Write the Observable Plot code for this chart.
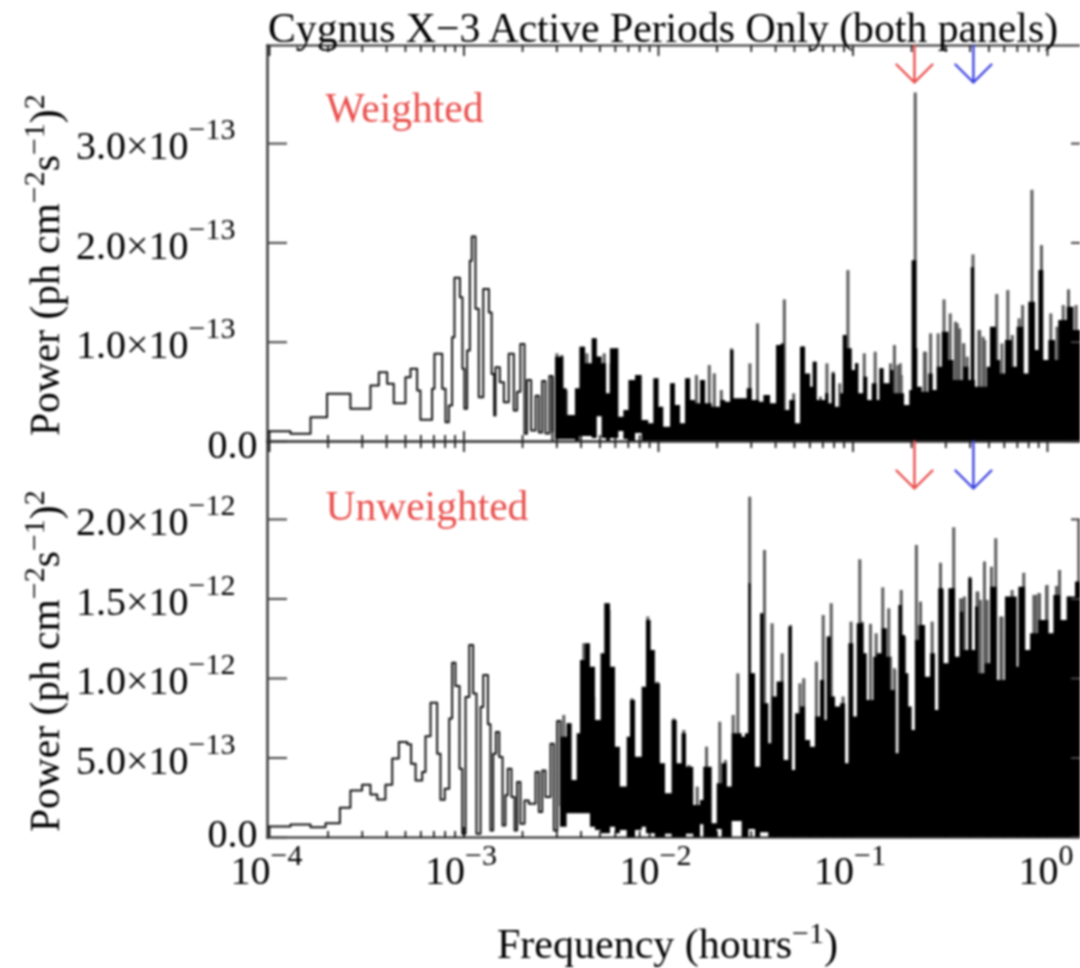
<!DOCTYPE html>
<html><head><meta charset="utf-8">
<script src="https://cdn.jsdelivr.net/npm/d3@7"></script>
<script src="https://cdn.jsdelivr.net/npm/@observablehq/plot@0.6"></script>
<style>
html,body{margin:0;padding:0;background:#fff}
#page{position:relative;width:1080px;height:968px;overflow:hidden;font-family:"Liberation Serif",serif;color:#000;filter:blur(.8px);background:#fff}
#page svg{position:absolute;left:0}
.t{position:absolute;white-space:nowrap;font-size:41.5px;line-height:1;z-index:5}
.t sup{font-size:30px;line-height:0;vertical-align:15px}
.rot{transform-origin:0 0;transform:rotate(-90deg)}
</style></head><body><div id="page"></div>
<script>
// Weighted panel, low-frequency histogram: log10(frequency) bin edges and power (1e-13)
const wStepLogF=[-4.012,-3.892,-3.789,-3.704,-3.584,-3.481,-3.438,-3.395,-3.361,-3.301,-3.275,-3.241,-3.224,-3.164,-3.152,-3.112,-3.095,-3.078,-3.061,-3.049,-3.021,-3.008,-2.998,-2.984,-2.970,-2.960,-2.941,-2.924,-2.901,-2.872,-2.858,-2.845,-2.838,-2.816,-2.795,-2.770,-2.744,-2.727,-2.710,-2.689,-2.676,-2.655,-2.632,-2.615,-2.598,-2.581,-2.561,-2.545];
const wStepPower=[.104,.077,.245,.480,.329,.564,.698,.581,.386,.648,.732,.513,.218,.530,.883,.530,.195,.362,1.05,1.648,1.453,.732,.329,.916,1.82,2.064,1.336,.446,1.537,1.30,.681,.262,.748,.597,.396,.883,.312,.50,.983,.077,.62,.11,.46,.09,.61,.08,.66,.10];
// Weighted panel, peaks standing above the dense forest
const wSpikeLogF=[-2.545,-2.522,-2.497,-2.474,-2.391,-2.368,-2.327,-2.279,-2.244,-2.217,-2.143,-2.099,-2.008,-1.925,-1.845,-1.805,-1.775,-1.739,-1.713,-1.677,-1.624,-1.530,-1.491,-1.385,-1.353,-1.305,-1.258,-1.196,-1.134,-1.102,-1.040,-1.026,-.981,-.942,-.886,-.850,-.787,-.757,-.680,-.633,-.601,-.562,-.532,-.500,-.464,-.432,-.383,-.349,-.323,-.261,-.234,-.204,-.181,-.146,-.128,-.080,-.031,.017,.049,.081,.108,.147,-1.167,-1.068,-.627,-.473,-.452,-.430,-.413,-.353,-.331,-.807,-.769,-.752];
const wSpikePower=[.648,.883,.866,.513,.950,.883,1.034,.883,.782,.933,.614,.664,.631,.581,.631,.664,.614,.765,.681,.513,.933,.782,1.185,.966,1.426,.480,.956,.799,.782,.698,1.067,1.721,.782,.883,.899,.732,.966,.782,3.51,.899,1.084,1.084,1.426,1.285,1.185,.983,1.879,1.117,1.017,1.480,.983,1.520,1.067,1.235,1.369,2.53,1.973,1.285,1.151,1.369,1.527,1.369,.446,.581,.899,1.201,1.134,.983,.849,1.117,1.05,.782,.765,.664];
// Weighted panel, top of the solid black forest (left bin edges)
const wMassLogF=[-2.529,-2.487,-2.470,-2.427,-2.404,-2.375,-2.341,-2.315,-2.290,-2.267,-2.247,-2.204,-2.178,-2.152,-2.118,-2.084,-2.050,-2.024,-1.998,-1.973,-1.938,-1.913,-1.887,-1.861,-1.835,-1.810,-1.784,-1.758,-1.724,-1.681,-1.655,-1.629,-1.612,-1.544,-1.518,-1.501,-1.480,-1.458,-1.424,-1.393,-1.369,-1.352,-1.325,-1.296,-1.270,-1.244,
-1.218,-1.205,-1.184,-1.141,-1.124,-1.107,-1.090,-1.064,-1.050,-1.030,-1.004,-.987,-.970,-.944,-.924,-.901,-.876,-.862,-.841,-.807,-.790,-.756,-.735,-.708,-.696,-.672,-.667,-.644,-.610,-.588,-.567,-.541,-.507,-.481,-.430,-.404,-.392,-.375,-.370,-.310,-.293,-.262,-.241,-.216,-.181,-.156,-.122,-.096,-.062,-.044,-.019,.007,.041,.058,.101,.136,.17];
const wMassTop=[.849,.530,.262,.530,.95,.782,1.034,.85,.782,.48,.933,.245,.312,.614,.664,.211,.178,.631,.346,.144,.581,.362,.178,.631,.413,.379,.614,.379,.346,.413,.396,.916,.43,.530,.413,.413,.396,.463,.379,.966,.983,.312,.413,.178,.95,.681,
.547,.799,.413,.48,.379,.681,.346,.48,1.067,.933,.715,.782,.48,.648,.413,.581,.413,.732,.581,.715,.48,.48,.362,.513,1.82,.933,.547,.497,.681,.513,.748,1.10,.815,.614,.748,.614,1.75,.614,.547,.748,1.151,.815,.681,1.017,.748,1.151,.681,1.403,.916,1.721,.815,1.017,.815,1.218,1.352,1.117,1.117];
// Weighted panel, small white holes at the foot of the forest
const wHoleLogF=[-2.529,-2.470,-2.427,-2.404,-2.375,-2.341,-2.315,-2.290,-2.267,-2.247,-2.204,-2.178,-2.152,-2.118,-2.084];
const wHolePower=[.02,.02,0,.05,.05,.03,.25,.03,0,.03,.1,.02,0,.08,0];
// Unweighted panel, low-frequency histogram (power 1e-12)
const uStepLogF=[-4.012,-3.892,-3.789,-3.712,-3.638,-3.584,-3.524,-3.481,-3.446,-3.404,-3.369,-3.335,-3.292,-3.272,-3.249,-3.215,-3.198,-3.172,-3.138,-3.121,-3.099,-3.076,-3.061,-3.044,-3.023,-3.009,-2.992,-2.973,-2.953,-2.936,-2.915,-2.901,-2.877,-2.864,-2.850,-2.836,-2.819,-2.802,-2.787,-2.775,-2.756,-2.740,-2.727,-2.710,-2.689,-2.667,-2.632,-2.615,-2.598,-2.581,-2.555,-2.538,-2.521,-2.504];
const uStepPower=[.069,.082,.065,.090,.187,.296,.332,.271,.239,.332,.496,.601,.586,.464,.359,.412,.637,.847,.527,.237,.307,.748,1.099,.952,.433,.023,.884,1.21,.905,.023,.821,1.021,.712,.044,.527,.664,.506,.076,.265,.433,.254,.044,.349,.086,.233,.212,.412,.160,.422,.254,.590,.044,.733,.20];
// Unweighted panel, peaks
const uSpikeLogF=[-2.487,-2.461,-2.384,-2.367,-2.333,-2.273,-2.255,-2.136,-2.055,-2.007,-1.921,-1.870,-1.844,-1.801,-1.753,-1.685,-1.656,-1.616,-1.592,-1.531,-1.519,-1.467,-1.455,-1.416,-1.364,-1.321,-1.273,-1.253,-1.188,-1.153,-1.124,-1.112,-1.051,-1.010,-.965,-.953,-.910,-.881,-.847,-.816,-.785,-.752,-.735,-.674,-.653,-.593,-.550,-.542,-.482,-.439,-.399,-.362,-.324,-.288,-.266,-.233,-.182,-.122,-.062,-.041,-.002,.062,.110,.161,-.807,-.787,-.427,-.358,-.241,-.447,-.344,-.310,-.070,-.045,-.005,.046];
const uSpikePower=[.767,.715,1.218,1.155,.883,1.470,1.428,.872,1.386,.977,.746,.673,.453,.317,.568,.725,.484,.767,1.029,2.140,1.029,1.407,1.805,1.344,1.155,1.333,.966,.998,1.103,1.396,1.260,1.470,.883,1.354,1.746,1.354,1.340,1.281,1.570,1.438,1.050,1.553,1.260,1.836,1.480,1.354,1.725,1.553,1.948,1.501,1.637,1.543,1.732,1.700,1.878,1.386,1.553,1.662,1.522,1.532,1.585,1.679,1.512,1.994,1.134,1.061,1.512,1.543,1.386,1.50,1.491,1.491,1.522,1.533,1.579,1.579];
// Unweighted panel, top of the solid forest (left bin edges)
const uMassLogF=[-2.504,-2.470,-2.444,-2.418,-2.401,-2.375,-2.350,-2.324,-2.295,-2.273,-2.247,-2.221,-2.196,-2.161,-2.144,-2.118,-2.084,-2.062,-2.038,-2.016,-1.990,-1.964,-1.930,-1.904,-1.879,-1.856,-1.819,
-1.784,-1.767,-1.724,-1.698,-1.673,-1.647,-1.621,-1.570,-1.553,-1.535,-1.524,-1.501,-1.475,-1.458,-1.433,-1.415,-1.390,-1.355,-1.330,-1.313,-1.295,-1.270,-1.244,-1.218,-1.193,-1.167,-1.146,-1.133,-1.112,-1.090,-1.064,-1.038,-1.021,-.996,-.978,-.944,-.927,-.893,-.876,-.850,-.824,
-.807,-.781,-.764,-.747,-.730,-.713,-.696,-.679,-.661,-.627,-.601,-.576,-.559,-.533,-.507,-.473,-.447,-.430,-.404,-.387,-.370,-.353,-.319,-.293,-.259,-.216,-.156,-.147,-.113,-.087,-.045,.007,.033,.067,.101,.144,.17];
const uMassTop=[.631,.715,.358,.652,1.113,1.218,1.071,.736,1.155,1.470,1.071,.568,.317,.631,.862,.505,.945,1.365,1.176,.966,.463,.275,.736,.463,.652,.442,.201,
.233,.442,.086,.338,.463,.317,.652,.631,.652,1.595,1.029,.442,1.407,.841,.589,.883,.977,.484,1.323,.421,.778,.820,.610,.568,.757,.987,.736,1.260,.883,.820,.841,.463,1.218,.757,1.344,1.155,.862,1.134,1.155,1.312,1.134,
.925,.526,1.459,1.270,1.029,.820,.673,1.239,1.333,1.008,1.155,.799,1.564,1.092,1.564,1.134,1.417,1.176,1.627,1.176,1.449,1.029,1.092,1.574,.987,1.512,1.071,1.574,1.176,1.281,1.365,1.281,1.522,1.365,1.512,1.606,1.606];
// Unweighted panel, white holes at the foot of the forest
const uHoleLogF=[-2.504,-2.470,-2.350,-2.324,-2.295,-2.247,-2.221,-2.196,-2.161,-2.118,-2.084,-2.062,-2.016,-1.964,-1.930,-1.856,-1.819,-1.784,-1.767,-1.698,-1.673,-1.621,-1.570,-1.535,-1.501,-1.475,-1.433];
const uHolePower=[.065,.149,.065,.044,.023,.065,.023,.044,0,.044,.065,.023,0,.02,0,.02,0,.08,0,.05,0,.10,0,.05,0,.03,0];
// Axes
const majorF=[1e-4,1e-3,1e-2,1e-1,1];
const minorF=[2e-4,3e-4,4e-4,5e-4,6e-4,7e-4,8e-4,9e-4,2e-3,3e-3,4e-3,5e-3,6e-3,7e-3,8e-3,9e-3,2e-2,3e-2,4e-2,5e-2,6e-2,7e-2,8e-2,9e-2,2e-1,3e-1,4e-1,5e-1,6e-1,7e-1,8e-1,9e-1];
const xExponents=["−4","−3","−2","−1","0"];
const orbitalF=.207, harmonicF=.416;
const wTicks=[0,1e-13,2e-13,3e-13], wMant=["0.0","1.0×10","2.0×10","3.0×10"], wExp=["","−13","−13","−13"];
const uTicks=[0,5e-13,1e-12,1.5e-12,2e-12], uMant=["0.0","5.0×10","1.0×10","1.5×10","2.0×10"], uExp=["","−13","−12","−12","−12"];

const xMax=10**0.1697, F="Liberation Serif", RED="#e9504e", BLUE="#3f46e0", INK="#000";
const none=()=>"";
function arrowShape(head){return {draw(c,l){c.moveTo(0,0);c.lineTo(0,-l);c.moveTo(-head,-l+head);c.lineTo(0,-l);c.lineTo(head,-l+head);}};}

function panel(o){
  const step=o.stepLogF.map((l,i)=>({f:10**l,p:o.stepPower[i]*o.unit}));
  const spikes=o.spikeLogF.map((l,i)=>({f:10**l,p:o.spikePower[i]*o.unit}));
  const mass=o.massLogF.map((l,i)=>({f:10**l,p:o.massTop[i]*o.unit}));
  const holes=o.holeLogF.map((l,i)=>({f:10**l,p:o.holePower[i]*o.unit}));
  const t=o.ticks.map((v,i)=>({v,m:o.mant[i],e:o.exp[i]}));
  const zero=t.filter(d=>d.v===0), non=t.filter(d=>d.v!==0);
  const marks=[
    Plot.ruleX(spikes,{x:"f",y1:0,y2:"p",stroke:"#5c5c5c",strokeWidth:3,clip:true}),
    Plot.areaY(mass,{x:"f",y:"p",curve:"step-after",fill:"#000",clip:true}),
    Plot.areaY(holes,{x:"f",y:"p",curve:"step-after",fill:"#fff",clip:true}),
    Plot.line(step,{x:"f",y:"p",curve:"step-after",stroke:"#111",strokeWidth:2,clip:true}),
    Plot.frame({anchor:"left",stroke:"#333",strokeWidth:2.4}),
    Plot.frame({anchor:"top",stroke:"#333",strokeWidth:2.2}),
    Plot.frame({anchor:"bottom",stroke:"#222",strokeWidth:2.2}),
    Plot.axisX(majorF,{anchor:"bottom",tickSize:-10,tickFormat:none,label:null,strokeWidth:1.6}),
    Plot.axisX(minorF,{anchor:"bottom",tickSize:-6,tickFormat:none,label:null,strokeWidth:1.6}),
    Plot.axisX(majorF,{anchor:"top",tickSize:-10,tickFormat:none,label:null,strokeWidth:1.6}),
    Plot.axisX(minorF,{anchor:"top",tickSize:-6,tickFormat:none,label:null,strokeWidth:1.6}),
    Plot.axisY(o.ticks,{anchor:"left",tickSize:-20,tickFormat:none,label:null,strokeWidth:2,stroke:"#444"}),
    Plot.axisY(o.ticks,{anchor:"right",tickSize:-10,tickFormat:none,label:null,strokeWidth:2,stroke:"#444"}),
    Plot.text(zero,{y:"v",text:"m",frameAnchor:"left",textAnchor:"end",dx:-10,dy:o.zeroDy,fontSize:40,fontFamily:F,fill:INK}),
    Plot.text(non,{y:"v",text:"m",frameAnchor:"left",textAnchor:"end",dx:-79,dy:3,fontSize:40,fontFamily:F,fill:INK}),
    Plot.text(non,{y:"v",text:"e",frameAnchor:"left",textAnchor:"start",dx:-79,dy:-14,fontSize:30,fontFamily:F,fill:INK}),
    Plot.text([o.tag],{text:d=>d,frameAnchor:"top-left",textAnchor:"start",lineAnchor:"top",dx:58,dy:o.tagDy,fontSize:41.5,fontFamily:F,fill:RED}),
    Plot.vector([orbitalF],{x:d=>d,frameAnchor:"top",length:o.arrow,rotate:180,anchor:"start",shape:arrowShape(18),stroke:RED,strokeWidth:2.4}),
    Plot.vector([harmonicF],{x:d=>d,frameAnchor:"top",length:o.arrow,rotate:180,anchor:"start",shape:arrowShape(18),stroke:BLUE,strokeWidth:2.4})
  ];
  if(o.xLabels){
    const lab=majorF.map((f,i)=>({f,e:xExponents[i]}));
    const neg=lab.filter(d=>d.e!=="0"), pos=lab.filter(d=>d.e==="0");
    for(const [set,dx] of [[neg,1],[pos,11]]) marks.push(
      Plot.text(set,{x:"f",text:()=>"10",frameAnchor:"bottom",textAnchor:"end",lineAnchor:"bottom",dx,dy:46,fontSize:40,fontFamily:F,fill:INK}),
      Plot.text(set,{x:"f",text:"e",frameAnchor:"bottom",textAnchor:"start",lineAnchor:"bottom",dx,dy:27,fontSize:30,fontFamily:F,fill:INK})
    );
  }
  const svg=Plot.plot({
    width:1080,height:o.height,marginLeft:267,marginRight:0,marginTop:o.mt,marginBottom:o.mb,
    style:{background:"transparent",overflow:"visible"},
    x:{type:"log",domain:[1e-4,xMax],range:[269,1080],axis:null},
    y:{domain:[0,o.top],axis:null},
    marks
  });
  svg.style.top=o.pos+"px";
  document.getElementById("page").append(svg);
}
panel({pos:0,height:460,mt:45,mb:19,top:3.988e-13,unit:1e-13,stepLogF:wStepLogF,stepPower:wStepPower,spikeLogF:wSpikeLogF,spikePower:wSpikePower,massLogF:wMassLogF,massTop:wMassTop,holeLogF:wHoleLogF,holePower:wHolePower,ticks:wTicks,mant:wMant,exp:wExp,tag:"Weighted",tagDy:47,arrow:37,zeroDy:4});
panel({pos:440,height:528,mt:1,mb:131,top:2.49e-12,unit:1e-12,stepLogF:uStepLogF,stepPower:uStepPower,spikeLogF:uSpikeLogF,spikePower:uSpikePower,massLogF:uMassLogF,massTop:uMassTop,holeLogF:uHoleLogF,holePower:uHolePower,ticks:uTicks,mant:uMant,exp:uExp,tag:"Unweighted",tagDy:49,arrow:47,zeroDy:-3,xLabels:true});

const page=document.getElementById("page");
function label(html,css,cls){const d=document.createElement("div");d.className="t "+(cls||"");d.style.cssText=css;d.innerHTML=html;page.append(d);}
label("Cygnus X−3 Active Periods Only (both panels)","left:268px;top:8px;font-size:41.7px");
label("Frequency (hours<sup>−1</sup>)","left:497px;top:923px;font-size:42px");
const yTitle="Power (ph cm<sup>−2</sup>s<sup>−1</sup>)<sup>2</sup>";
label(yTitle,"left:25px;top:436px","rot");
label(yTitle,"left:25px;top:832px","rot");
</script></body></html>
